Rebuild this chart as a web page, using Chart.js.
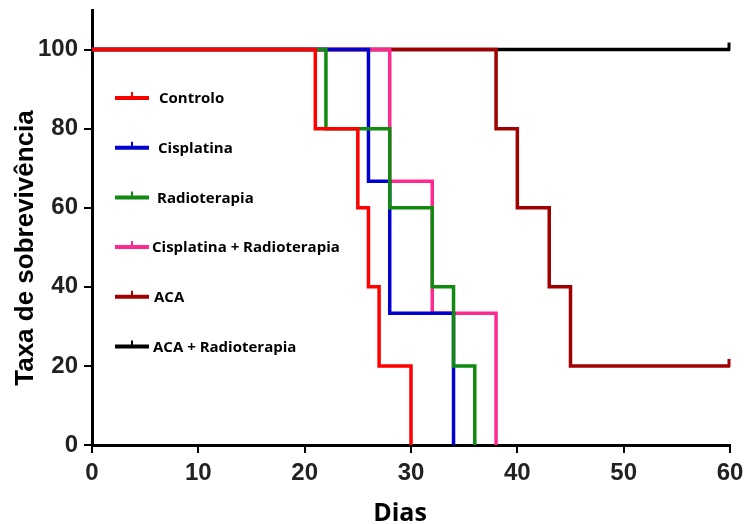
<!DOCTYPE html>
<html>
<head>
<meta charset="utf-8">
<script src="https://cdn.jsdelivr.net/npm/chart.js"></script>
<style>
  body { margin: 0; background: #fff; }
  #wrap { width: 745px; height: 524px; }
</style>
</head>
<body>
<div id="wrap"><canvas id="surv"></canvas></div>
<script>
// survival data (days, % surviving)
const groupNames = ['Controlo', 'Cisplatina', 'Radioterapia', 'Cisplatina + Radioterapia', 'ACA', 'ACA + Radioterapia'];

const controloDays = [0, 21, 25, 26, 27, 30];
const controloSurv = [100, 80, 60, 40, 20, 0];

const cisplatinaDays = [0, 26, 28, 34];
const cisplatinaSurv = [100, 66.7, 33.3, 0];

const radioDays = [0, 22, 28, 32, 34, 36];
const radioSurv = [100, 80, 60, 40, 20, 0];

const cispRadioDays = [0, 28, 32, 38];
const cispRadioSurv = [100, 66.7, 33.3, 0];

const acaDays = [0, 38, 40, 43, 45, 60];
const acaSurv = [100, 80, 60, 40, 20, 20];

const acaRadioDays = [0, 60];
const acaRadioSurv = [100, 100];

// censored at end of study
const acaCensor = [60];
const acaRadioCensor = [60];

const xTicks = [0, 10, 20, 30, 40, 50, 60];
const yTicks = [0, 20, 40, 60, 80, 100];

const colors = ['#ff0000', '#0000d0', '#108a10', '#ff2a8f', '#a00000', '#000000'];

function pts(days, surv) {
  return days.map((d, i) => ({ x: d, y: surv[i] }));
}

// drawing order: red on top, then green, blue, pink, dark red, black
const series = [
  { data: pts(controloDays, controloSurv), order: 0, censor: [] },
  { data: pts(cisplatinaDays, cisplatinaSurv), order: 2, censor: [] },
  { data: pts(radioDays, radioSurv), order: 1, censor: [] },
  { data: pts(cispRadioDays, cispRadioSurv), order: 3, censor: [] },
  { data: pts(acaDays, acaSurv), order: 4, censor: acaCensor },
  { data: pts(acaRadioDays, acaRadioSurv), order: 5, censor: acaRadioCensor }
];

const datasets = series.map((s, i) => ({
  label: groupNames[i],
  data: s.data,
  order: s.order,
  censor: s.censor,
  borderColor: colors[i],
  backgroundColor: colors[i],
  borderWidth: 3.5,
  pointRadius: 0,
  stepped: true,
  fill: false,
  borderCapStyle: 'butt',
  borderJoinStyle: 'miter'
}));

// legend rows, censor marks and axis titles
const legendGap = [10, 9, 8, 3, 5, 4];
const overlay = {
  id: 'overlay',
  afterDatasetsDraw(chart) {
    const { ctx, chartArea: a, scales } = chart;
    ctx.save();

    // censor ticks
    chart.data.datasets.forEach(ds => {
      (ds.censor || []).forEach(d => {
        const last = ds.data[ds.data.length - 1];
        const px = scales.x.getPixelForValue(d) - 1;
        const py = scales.y.getPixelForValue(last.y);
        ctx.strokeStyle = ds.borderColor;
        ctx.lineWidth = 3;
        ctx.beginPath();
        ctx.moveTo(px, py + 1);
        ctx.lineTo(px, py - 7);
        ctx.stroke();
      });
    });

    // legend
    ctx.font = 'bold 15px "Open Sans"';
    ctx.textBaseline = 'middle';
    ctx.textAlign = 'left';
    groupNames.forEach((name, i) => {
      const y = a.top + 88 + i * 49.7;
      const x0 = a.left + 23, x1 = a.left + 57;
      ctx.strokeStyle = colors[i];
      ctx.lineWidth = 4;
      ctx.beginPath();
      ctx.moveTo(x0, y);
      ctx.lineTo(x1, y);
      ctx.stroke();
      ctx.lineWidth = 2;
      ctx.beginPath();
      ctx.moveTo((x0 + x1) / 2, y);
      ctx.lineTo((x0 + x1) / 2, y - 6);
      ctx.stroke();
      ctx.fillStyle = '#000';
      ctx.fillText(name, x1 + legendGap[i], y + 1);
    });

    // axis titles
    ctx.fillStyle = '#000';
    ctx.textAlign = 'center';
    ctx.textBaseline = 'alphabetic';
    ctx.font = 'bold 25px "Open Sans"';
    ctx.fillText('Dias', a.left + 308, 521);

    ctx.translate(33, 248);
    ctx.rotate(-Math.PI / 2);
    ctx.font = 'bold 26px "Liberation Sans"';
    ctx.fillText('Taxa de sobrevivência', 0, 0);
    ctx.restore();
  }
};

const tickFont = { family: '"Liberation Sans"', size: 24, weight: 'bold' };

new Chart(document.getElementById('surv'), {
  type: 'line',
  data: { datasets },
  options: {
    responsive: true,
    maintainAspectRatio: false,
    animation: false,
    layout: { padding: { top: 10, right: 15, left: 0, bottom: 0 } },
    plugins: { legend: { display: false }, tooltip: { enabled: false } },
    scales: {
      x: {
        type: 'linear',
        min: 0,
        max: 60,
        afterBuildTicks: s => { s.ticks = xTicks.map(v => ({ value: v })); },
        afterFit: s => { s.height = 79; s.paddingLeft = 0; s.paddingRight = 0; },
        grid: { drawOnChartArea: false, color: '#000', lineWidth: 2, tickLength: 8 },
        border: { color: '#000', width: 3 },
        ticks: { color: '#222', font: tickFont, padding: 6, maxRotation: 0 }
      },
      y: {
        min: 0,
        max: 110,
        afterBuildTicks: s => { s.ticks = yTicks.map(v => ({ value: v })); },
        afterFit: s => { s.width = 92; s.paddingTop = 0; s.paddingBottom = 0; },
        grid: { drawOnChartArea: false, color: '#000', lineWidth: 2, tickLength: 8 },
        border: { color: '#000', width: 3 },
        ticks: { color: '#222', font: tickFont, padding: 6 }
      }
    }
  },
  plugins: [overlay]
});
</script>
</body>
</html>
